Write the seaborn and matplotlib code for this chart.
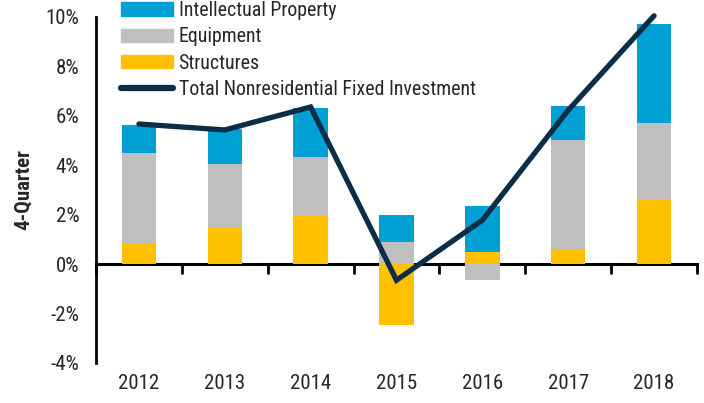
import numpy as np
import matplotlib
matplotlib.use("Agg")
import matplotlib.pyplot as plt
import seaborn as sns
from matplotlib.patches import Patch
from matplotlib.lines import Line2D

years = ["2012", "2013", "2014", "2015", "2016", "2017", "2018"]
structures = [0.85, 1.47, 1.98, -2.45, 0.50, 0.60, 2.62]
equipment = [3.65, 2.58, 2.35, 0.90, -0.65, 4.42, 3.08]
intellectual = [1.15, 1.40, 1.99, 1.07, 1.85, 1.38, 4.02]
total = [5.67, 5.43, 6.36, -0.65, 1.78, 6.23, 10.05]
yticks = [-4, -2, 0, 2, 4, 6, 8, 10]

c_ip = "#009FD4"
c_eq = "#BFBFBF"
c_st = "#FFC000"
c_tot = "#0B2D48"

sns.set_theme(style="white")
plt.rcParams["font.family"] = ["Roboto Condensed", "Liberation Sans", "DejaVu Sans"]

FS = 15

fig = plt.figure(figsize=(7.04, 4.03), dpi=100)
ax = fig.add_axes([96 / 704, 1 - 363 / 403, (697 - 96) / 704, (363 - 17) / 403])

# stacking: positives stack upward, negatives downward
series = [(structures, c_st), (equipment, c_eq), (intellectual, c_ip)]
pos = np.zeros(len(years))
neg = np.zeros(len(years))
for vals, col in series:
    v = np.array(vals, dtype=float)
    bottom = np.where(v >= 0, pos, neg)
    sns.barplot(x=years, y=v, bottom=bottom, color=col, width=0.4,
                errorbar=None, ax=ax, linewidth=0, saturation=1)
    pos = np.where(v >= 0, pos + v, pos)
    neg = np.where(v < 0, neg + v, neg)

sns.lineplot(x=np.arange(len(years)), y=total, color=c_tot, linewidth=3.8,
             ax=ax, clip_on=False, solid_joinstyle="miter", zorder=5)

ax.set_ylim(-4, 10)
ax.set_xlim(-0.5, len(years) - 0.5)
ax.set_yticks(yticks)
ax.set_yticklabels([f"{t}%" for t in yticks], fontsize=FS)
ax.set_xticks(np.arange(len(years)))
ax.set_xticklabels(years, fontsize=FS)
ax.tick_params(axis="x", length=0, pad=8)
ax.tick_params(axis="y", length=7, width=2, direction="out", color="black", pad=5)
ax.set_xlabel("")
ax.set_ylabel("4-Quarter", fontsize=FS, fontweight="bold", labelpad=9)

for s in ["top", "right", "bottom"]:
    ax.spines[s].set_visible(False)
ax.spines["left"].set_linewidth(2)
ax.spines["left"].set_color("black")

# zero axis with category boundary ticks
sec = ax.secondary_xaxis(4 / 14)
sec.set_xticks(np.arange(len(years) + 1) - 0.5)
sec.set_xticklabels([])
sec.tick_params(axis="x", length=7, width=2, direction="out", color="black")
sec.spines["bottom"].set_linewidth(2.2)
sec.spines["bottom"].set_color("black")

handles = [Patch(color=c_ip), Patch(color=c_eq), Patch(color=c_st),
           Line2D([], [], color=c_tot, linewidth=4.5)]
labels = ["Intellectual Property", "Equipment", "Structures",
          "Total Nonresidential Fixed Investment"]
leg = ax.legend(handles, labels, loc="upper left", bbox_to_anchor=(121 / 704, 1.0 - 1 / 403),
                bbox_transform=fig.transFigure, frameon=False, fontsize=14.3,
                handlelength=2.6, handleheight=0.65, labelspacing=0.37,
                handletextpad=0.3, borderaxespad=0, borderpad=0)

fig.savefig("out.png", dpi=100)
